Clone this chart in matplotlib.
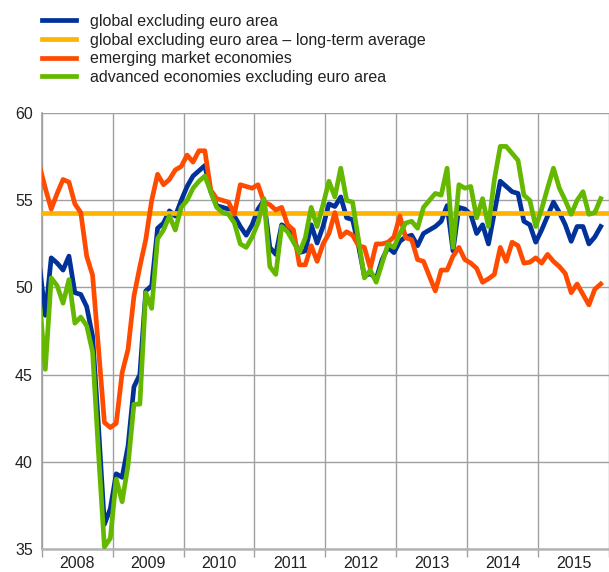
import matplotlib
matplotlib.use("Agg")
import matplotlib.pyplot as plt
import numpy as np

# monthly PMI readings, Jan 2008 onwards
global_ex_ea = [51.3, 48.4, 51.7, 51.4, 51.0, 51.8, 49.7, 49.6, 48.9, 47.2, 42.0, 36.4,
                37.3, 39.3, 39.1, 40.9, 44.3, 45.0, 49.8, 50.1, 53.4, 53.7, 54.4, 54.1,
                55.0, 55.8, 56.4, 56.7, 57.0, 55.5, 54.7, 54.6, 54.5, 54.1, 53.5, 53.0,
                53.6, 54.5, 55.0, 52.3, 51.9, 53.6, 53.4, 52.75, 52.0, 52.1, 53.6, 52.55,
                53.5, 54.8, 54.65, 55.2, 54.0, 53.9, 52.4, 50.65, 50.8, 50.5, 51.6, 52.3,
                52.0, 52.65, 52.9, 53.0, 52.4, 53.1, 53.3, 53.5, 53.8, 54.7, 52.1, 54.6,
                54.5, 54.2, 53.1, 53.6, 52.5, 54.3, 56.1, 55.8, 55.5, 55.4, 53.8, 53.6,
                52.6, 53.3, 54.1, 54.9, 54.3, 53.6, 52.65, 53.5, 53.5, 52.5, 52.9, 53.5]

long_term_avg = 54.3

emerging = [57.0, 55.7, 54.5, 55.4, 56.2, 56.05, 54.8, 54.3, 51.8, 50.7, 46.5, 42.25,
            41.96, 42.2, 45.1, 46.45, 49.5, 51.2, 52.75, 55.0, 56.5, 55.9, 56.2, 56.75,
            56.95, 57.6, 57.2, 57.85, 57.85, 55.6, 55.1, 55.0, 54.9, 54.2, 55.9, 55.8,
            55.7, 55.9, 54.9, 54.75, 54.45, 54.6, 53.6, 53.3, 51.3, 51.3, 52.4, 51.5,
            52.5, 53.1, 54.3, 52.9, 53.2, 53.0, 52.4, 52.3, 51.1, 52.5, 52.5, 52.6,
            52.9, 54.1, 52.85, 52.75, 51.6, 51.5, 50.65, 49.8, 51.0, 51.0, 51.8, 52.3,
            51.6, 51.4, 51.1, 50.3, 50.5, 50.75, 52.3, 51.5, 52.6, 52.4, 51.4, 51.45,
            51.7, 51.4, 51.9, 51.5, 51.2, 50.8, 49.7, 50.2, 49.6, 49.0, 49.9, 50.2]

advanced_ex_ea = [49.3, 45.3, 50.55, 50.1, 49.1, 50.45, 47.95, 48.3, 47.8, 46.3, 40.5, 35.1,
                  35.6, 39.0, 37.7, 39.8, 43.3, 43.3, 49.7, 48.8, 52.8, 53.3, 54.1, 53.3,
                  54.6, 55.0, 55.7, 56.1, 56.4, 55.5, 54.6, 54.3, 54.2, 53.7, 52.5, 52.3,
                  52.9, 53.7, 55.1, 51.2, 50.75, 53.5, 53.2, 52.6, 52.0, 52.85, 54.6, 53.5,
                  54.75, 56.1, 55.2, 56.85, 55.0, 54.9, 52.75, 50.55, 51.0, 50.3, 51.4, 52.5,
                  52.3, 53.1, 53.7, 53.8, 53.4, 54.6, 55.0, 55.4, 55.3, 56.85, 52.3, 55.9,
                  55.7, 55.8, 54.0, 55.1, 53.5, 56.2, 58.1, 58.1, 57.7, 57.3, 55.3, 55.0,
                  53.5, 54.5, 55.7, 56.85, 55.7, 55.0, 54.2, 55.0, 55.5, 54.2, 54.3, 55.1]

years = ["2008", "2009", "2010", "2011", "2012", "2013", "2014", "2015"]

labels = ["global excluding euro area",
          "global excluding euro area \u2013 long-term average",
          "emerging market economies",
          "advanced economies excluding euro area"]
colors = ["#003299", "#ffb400", "#ff4b00", "#65b800"]

plt.rcParams['font.family'] = ['Liberation Sans', 'DejaVu Sans']

months = np.arange(len(global_ex_ea)) - 0.4

fig = plt.figure(figsize=(6.09, 5.72), dpi=100)
ax = fig.add_axes([0.0686, 0.0407, 0.9314, 0.7612])

lw = 3.4
ax.plot(months, global_ex_ea, color=colors[0], lw=lw, label=labels[0], zorder=3)
ax.axhline(long_term_avg, color=colors[1], lw=lw, label=labels[1], zorder=4)
ax.plot(months, emerging, color=colors[2], lw=lw, label=labels[2], zorder=5)
ax.plot(months, advanced_ex_ea, color=colors[3], lw=lw, label=labels[3], zorder=6)

ax.set_xlim(0, 94.25)
ax.set_ylim(35, 60)

ax.set_yticks(np.arange(35, 61, 5))
ax.tick_params(axis='y', length=0, pad=6.5, labelsize=11.5, labelcolor='#222222')

ax.set_xticks(np.arange(0, 97, 12))
ax.set_xticklabels([])
ax.set_xticks(np.arange(6, 96, 12), minor=True)
ax.set_xticklabels(years, minor=True)
ax.tick_params(axis='x', which='major', length=6, width=1, color='#a0a0a0')
ax.tick_params(axis='x', which='minor', length=0, pad=5.5, labelsize=11.5,
               labelcolor='#222222')

ax.grid(True, which='major', color='#a0a0a0', lw=1.0, zorder=0)
ax.set_axisbelow(True)

for s in ['top', 'right']:
    ax.spines[s].set_visible(False)
ax.spines['left'].set_color('#a0a0a0')
ax.spines['left'].set_linewidth(1.2)
ax.spines['bottom'].set_color('#b4b4b4')
ax.spines['bottom'].set_linewidth(1.8)

ax.legend(loc='upper left', bbox_to_anchor=(42 / 609, 1 - 14 / 572),
          bbox_transform=fig.transFigure, frameon=False, fontsize=11.5,
          handlelength=2.1, handletextpad=0.9, labelspacing=0.23,
          borderpad=0, borderaxespad=0, labelcolor='#222222')

fig.savefig("out.png", dpi=100)
